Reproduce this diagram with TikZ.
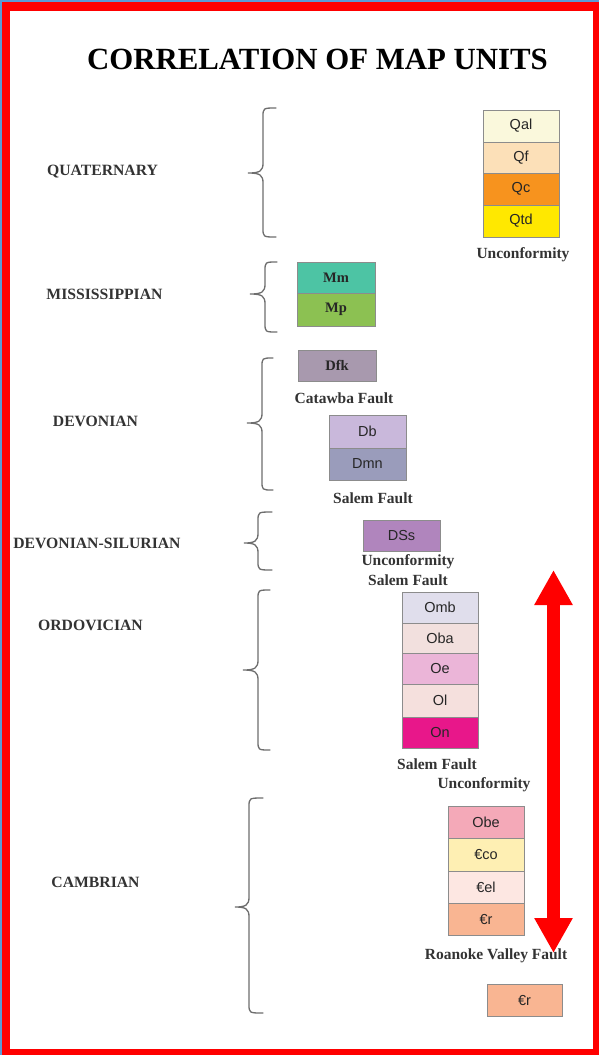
\documentclass[tikz,border=0pt]{standalone}
\usepackage{fontspec}
\setmainfont{Liberation Serif}
\newfontfamily\boxsans{Liberation Sans}
\usetikzlibrary{arrows.meta}
\definecolor{frameblue}{HTML}{5B9BD5}
\definecolor{framered}{HTML}{FF0000}
\definecolor{bracegray}{HTML}{6E6E6E}
\definecolor{labgray}{HTML}{333333}
\definecolor{cQal}{HTML}{FAF8DC}
\definecolor{cQf}{HTML}{FCE0B8}
\definecolor{cQc}{HTML}{F7931E}
\definecolor{cQtd}{HTML}{FFE800}
\definecolor{cMm}{HTML}{4DC4A4}
\definecolor{cMp}{HTML}{8CC152}
\definecolor{cDfk}{HTML}{A899AE}
\definecolor{cDb}{HTML}{C9B8DB}
\definecolor{cDmn}{HTML}{9A9CBB}
\definecolor{cDSs}{HTML}{B085BD}
\definecolor{cOmb}{HTML}{E0DEEC}
\definecolor{cOba}{HTML}{F2E0DE}
\definecolor{cOe}{HTML}{EBB5D8}
\definecolor{cOl}{HTML}{F5E0DD}
\definecolor{cOn}{HTML}{E8178A}
\definecolor{cObe}{HTML}{F4A9B8}
\definecolor{cCco}{HTML}{FEEFB3}
\definecolor{cCel}{HTML}{FDE7E2}
\definecolor{cCr}{HTML}{F9B592}
\newcommand{\gbrace}[6]{% xr, xv, xt, ytop, ytip, ybot
  \draw[brace] (#1,#4) .. controls (#2,#4) and (#2,#4) .. (#2,#4+9)
    -- (#2,#5-10) .. controls (#2,#5-2) and (#2-3,#5) .. (#3,#5)
    .. controls (#2-3,#5) and (#2,#5+2) .. (#2,#5+10)
    -- (#2,#6-9) .. controls (#2,#6) and (#2,#6) .. (#1,#6);}
\begin{document}
\begin{tikzpicture}[x=1pt,y=-1pt,
  unitbox/.style={draw=black!45, line width=0.8pt, minimum width=76pt, inner sep=0pt,
    font=\boxsans\fontsize{14.5}{15}\selectfont, text=black!85},
  serifunit/.style={unitbox, font=\bfseries\fontsize{14.5}{15}\selectfont},
  period/.style={font=\bfseries\fontsize{15.7}{17}\selectfont, text=labgray, inner sep=0pt},
  note/.style={font=\bfseries\fontsize{15.5}{16}\selectfont, text=labgray, inner sep=0pt},
  brace/.style={draw=bracegray, line width=1.3pt, line cap=round}]
\useasboundingbox (0,0) rectangle (599,1055);
\fill[frameblue] (0,0) rectangle (599,1055);
\fill[framered] (2,2) rectangle (599,1055);
\fill[white] (9.5,11) rectangle (592.5,1049);
% title
\node[font=\bfseries\fontsize{30.8}{32}\selectfont, inner sep=0pt] (title) at (317.5,59) {CORRELATION OF MAP UNITS};
% period labels
\node[period] (quat) at (102.5,172) {QUATERNARY};
\node[period] (miss) at (104.5,294) {MISSISSIPPIAN};
\node[period] (dev) at (95.5,421) {DEVONIAN};
\node[period] (devsil) at (97,543) {DEVONIAN-SILURIAN};
\node[period] (ord) at (90.5,625) {ORDOVICIAN};
\node[period] (camb) at (95.5,882) {CAMBRIAN};
% braces
\gbrace{276}{263}{248}{108}{173}{237}
\gbrace{277}{265}{250}{262}{294}{332}
\gbrace{273}{262}{247}{358}{423}{490}
\gbrace{272}{258}{244}{512}{543}{570}
\gbrace{270}{258}{243}{590}{670}{750}
\gbrace{263}{249}{235}{798}{907}{1013}
% Quaternary units
\node[unitbox, fill=cQal, minimum height=32pt] (qal) at (521,126) {Qal};
\node[unitbox, fill=cQf, minimum height=31pt] (qf) at (521,157.5) {Qf};
\node[unitbox, fill=cQc, minimum height=32pt] (qc) at (521,189) {Qc};
\node[unitbox, fill=cQtd, minimum height=32pt] (qtd) at (521,221) {Qtd};
\node[note] (unc1) at (523,255) {Unconformity};
% Mississippian
\node[serifunit, fill=cMm, minimum width=78pt, minimum height=31pt] (mm) at (336,277.5) {Mm};
\node[serifunit, fill=cMp, minimum width=78pt, minimum height=33pt] (mp) at (336,309.5) {Mp};
% Devonian
\node[serifunit, fill=cDfk, minimum width=78pt, minimum height=31pt] (dfk) at (337,365.5) {Dfk};
\node[note] (catawba) at (344,398) {Catawba Fault};
\node[unitbox, fill=cDb, minimum width=77pt, minimum height=33pt] (db) at (367.5,431.5) {Db};
\node[unitbox, fill=cDmn, minimum width=77pt, minimum height=32pt] (dmn) at (367.5,464) {Dmn};
\node[note] (salem1) at (373,498) {Salem Fault};
% Devonian-Silurian
\node[unitbox, fill=cDSs, minimum width=77pt, minimum height=31pt] (dss) at (401.5,535.5) {DSs};
\node[note] (unc2) at (408,562) {Unconformity};
\node[note] (salem2) at (408,580) {Salem Fault};
% Ordovician
\node[unitbox, fill=cOmb, minimum height=31pt] (omb) at (440,607.5) {Omb};
\node[unitbox, fill=cOba, minimum height=30pt] (oba) at (440,638) {Oba};
\node[unitbox, fill=cOe, minimum height=31pt] (oe) at (440,668.5) {Oe};
\node[unitbox, fill=cOl, minimum height=33pt] (ol) at (440,700.5) {Ol};
\node[unitbox, fill=cOn, minimum height=31pt] (on) at (440,732.5) {On};
\node[note] (salem3) at (437,764) {Salem Fault};
\node[note] (unc3) at (484,785) {Unconformity};
% Cambrian
\node[unitbox, fill=cObe, minimum height=32pt] (obe) at (486,822) {Obe};
\node[unitbox, fill=cCco, minimum height=33pt] (cco) at (486,854.5) {€co};
\node[unitbox, fill=cCel, minimum height=32pt] (cel) at (486,887) {€el};
\node[unitbox, fill=cCr, minimum height=32pt] (cr) at (486,919) {€r};
\node[note] (roanoke) at (496,956) {Roanoke Valley Fault};
\node[unitbox, fill=cCr, minimum width=75pt, minimum height=32pt] (cr2) at (524.5,1000) {€r};
% red double arrow
\coordinate (atop) at (553.5,570);
\coordinate (abot) at (553.5,953);
\draw[framered, line width=13pt, {Triangle[width=36pt,length=35pt]}-{Triangle[width=36pt,length=35pt]}] (atop) -- (abot);
\end{tikzpicture}
\end{document}
